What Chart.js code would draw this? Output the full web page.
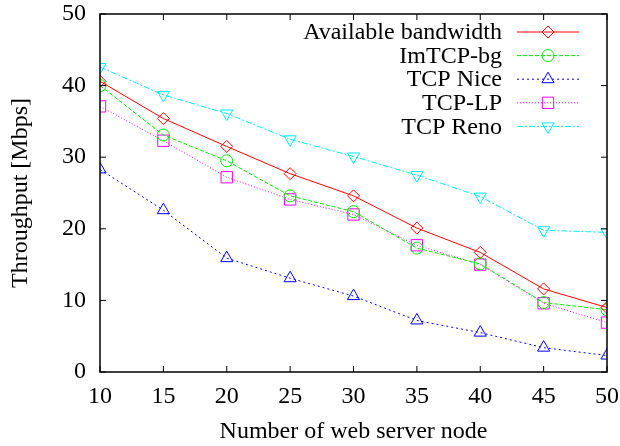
<!DOCTYPE html>
<html>
<head>
<meta charset="utf-8">
<script src="https://cdn.jsdelivr.net/npm/chart.js@4/dist/chart.umd.min.js"></script>
<style>
  html, body { margin: 0; padding: 0; background: #fff; }
  #wrap { width: 620px; height: 446px; }
</style>
</head>
<body>
<div id="wrap"><canvas id="c" width="620" height="446"></canvas></div>
<script>
const nodes = [10, 15, 20, 25, 30, 35, 40, 45, 50];
const availableBandwidth = [40.6, 35.4, 31.5, 27.7, 24.6, 20.1, 16.7, 11.6, 9.0];
const imtcpBg = [40.0, 33.1, 29.5, 24.6, 22.4, 17.3, 15.1, 9.7, 8.7];
const tcpNice = [28.3, 22.6, 15.9, 13.1, 10.6, 7.2, 5.5, 3.4, 2.3];
const tcpLp = [37.1, 32.3, 27.2, 24.1, 22.0, 17.7, 15.0, 9.6, 6.9];
const tcpReno = [42.6, 38.7, 36.1, 32.5, 30.1, 27.5, 24.5, 19.8, 19.5];
const seriesNames = ['Available bandwidth', 'ImTCP-bg', 'TCP Nice', 'TCP-LP', 'TCP Reno'];
const xTitle = 'Number of web server node';
const yTitle = 'Throughput [Mbps]';

const FONT = 'Liberation Serif, Times New Roman, serif';
const FS = 24;
const series = [availableBandwidth, imtcpBg, tcpNice, tcpLp, tcpReno];
const styles = [
  { color: '#ff0000', dash: [], point: 'rectRot', r: 6, rot: 0 },
  { color: '#00ee00', dash: [4, 2], point: 'circle', r: 6, rot: 0 },
  { color: '#0000ff', dash: [2, 3], point: 'triangle', r: 7, rot: 0 },
  { color: '#ff00ff', dash: [1, 2], point: 'rect', r: 8, rot: 0 },
  { color: '#00eeee', dash: [6, 2, 2, 2], point: 'triangle', r: 7, rot: 180 }
];

const datasets = series.map((vals, i) => ({
  label: seriesNames[i],
  data: nodes.map((x, j) => ({ x: x, y: vals[j] })),
  borderColor: styles[i].color,
  borderWidth: 1,
  borderDash: styles[i].dash,
  pointStyle: styles[i].point,
  pointRadius: styles[i].r,
  pointRotation: styles[i].rot,
  pointBorderColor: styles[i].color,
  pointBackgroundColor: 'rgba(0,0,0,0)',
  pointBorderWidth: 1,
  tension: 0,
  fill: false
}));

const framePlugin = {
  id: 'frame',
  afterDraw(chart) {
    const ctx = chart.ctx;
    const a = chart.chartArea;
    const xs = chart.scales.x, ys = chart.scales.y;
    ctx.save();
    ctx.strokeStyle = '#000';
    ctx.lineWidth = 1;
    ctx.setLineDash([]);
    const T = 6;
    ctx.beginPath();
    xs.ticks.forEach(t => {
      const px = xs.getPixelForValue(t.value);
      ctx.moveTo(px, a.bottom); ctx.lineTo(px, a.bottom - T);
      ctx.moveTo(px, a.top); ctx.lineTo(px, a.top + T);
    });
    ys.ticks.forEach(t => {
      const py = ys.getPixelForValue(t.value);
      ctx.moveTo(a.left, py); ctx.lineTo(a.left + T, py);
      ctx.moveTo(a.right, py); ctx.lineTo(a.right - T, py);
    });
    ctx.stroke();
    ctx.lineWidth = 1.5;
    ctx.strokeRect(a.left, a.top, a.right - a.left, a.bottom - a.top);
    ctx.restore();
  }
};

function drawMarker(ctx, st, x, y) {
  if (Chart.helpers && Chart.helpers.drawPoint) {
    ctx.fillStyle = 'rgba(0,0,0,0)';
    Chart.helpers.drawPoint(ctx, { pointStyle: st.point, rotation: st.rot, radius: st.r, borderWidth: 1 }, x, y);
  }
}

const legendPlugin = {
  id: 'gpLegend',
  afterDraw(chart) {
    const ctx = chart.ctx;
    const a = chart.chartArea;
    ctx.save();
    ctx.font = FS + 'px ' + FONT;
    ctx.textAlign = 'right';
    ctx.textBaseline = 'middle';
    chart.data.datasets.forEach((ds, i) => {
      const y = a.top + 18 + i * 23.6;
      const st = styles[i];
      ctx.fillStyle = '#000';
      ctx.fillText(ds.label, a.right - 105, y + 1);
      ctx.strokeStyle = st.color;
      ctx.lineWidth = 1;
      ctx.setLineDash(st.dash);
      ctx.beginPath();
      ctx.moveTo(a.right - 90, y);
      ctx.lineTo(a.right - 28, y);
      ctx.stroke();
      ctx.setLineDash([]);
      drawMarker(ctx, st, a.right - 59, y);
    });
    ctx.restore();
  }
};

new Chart(document.getElementById('c'), {
  type: 'line',
  data: { datasets: datasets },
  options: {
    responsive: false,
    animation: false,
    devicePixelRatio: 1,
    layout: { padding: { top: 14, right: 13, left: 0, bottom: 0 } },
    plugins: { legend: { display: false }, tooltip: { enabled: false } },
    scales: {
      x: {
        type: 'linear',
        min: 10, max: 50,
        ticks: { stepSize: 5, color: '#000', font: { family: FONT, size: FS }, padding: 10, maxRotation: 0, autoSkip: false },
        grid: { display: false, drawTicks: false },
        border: { display: false },
        title: { display: true, text: xTitle, color: '#000', font: { family: FONT, size: FS }, padding: { top: 0, bottom: 0 } },
        afterFit(s) { s.height = 74; s.paddingLeft = 0; s.paddingRight = 0; }
      },
      y: {
        type: 'linear',
        min: 0, max: 50,
        ticks: { stepSize: 10, color: '#000', font: { family: FONT, size: FS }, padding: 14 },
        grid: { display: false, drawTicks: false },
        border: { display: false },
        title: { display: true, text: yTitle, color: '#000', font: { family: FONT, size: FS }, padding: { top: 6, bottom: 0 } },
        afterFit(s) { s.width = 100; s.paddingTop = 0; s.paddingBottom = 0; }
      }
    }
  },
  plugins: [framePlugin, legendPlugin]
});
</script>
</body>
</html>
